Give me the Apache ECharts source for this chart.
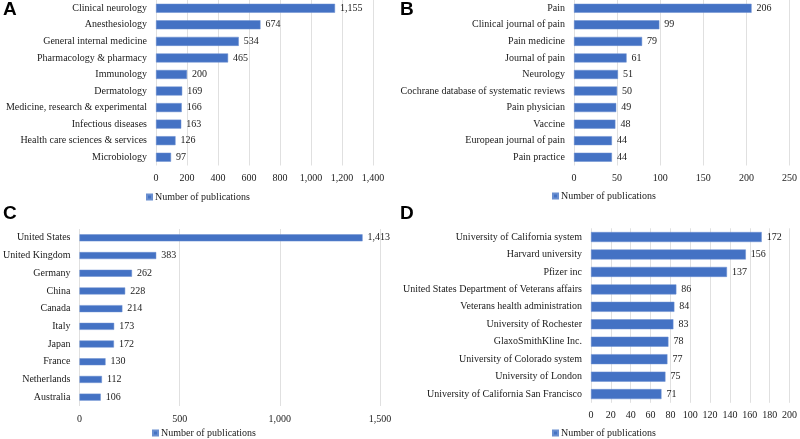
<!DOCTYPE html>
<html>
<head>
<meta charset="utf-8">
<script src="https://cdn.jsdelivr.net/npm/echarts@6/dist/echarts.min.js"></script>
<style>html,body{margin:0;padding:0;background:#fff}#c{width:800px;height:439px}</style>
</head>
<body>
<div id="c"></div>
<script>
const seriesName = 'Number of publications';

const catA = ['Clinical neurology','Anesthesiology','General internal medicine','Pharmacology & pharmacy','Immunology','Dermatology','Medicine, research & experimental','Infectious diseases','Health care sciences & services','Microbiology'];
const valA = [1155,674,534,465,200,169,166,163,126,97];

const catB = ['Pain','Clinical journal of pain','Pain medicine','Journal of pain','Neurology','Cochrane database of systematic reviews','Pain physician','Vaccine','European journal of pain','Pain practice'];
const valB = [206,99,79,61,51,50,49,48,44,44];

const catC = ['United States','United Kingdom','Germany','China','Canada','Italy','Japan','France','Netherlands','Australia'];
const valC = [1413,383,262,228,214,173,172,130,112,106];

const catD = ['University of California system','Harvard university','Pfizer inc','United States Department of Veterans affairs','Veterans health administration','University of Rochester','GlaxoSmithKline Inc.','University of Colorado system','University of London','University of California San Francisco'];
const valD = [172,156,137,86,84,83,78,77,75,71];

const panelLetters = ['A','B','C','D'];

const FONT = '"Liberation Serif","Times New Roman",serif';
const TXT = '#1a1a1a';
const BAR = '#4472C4';
const fmt = v => Number(v).toLocaleString('en-US');

const grids = [
  {left:156, width:217, top:0, height:165.5},
  {left:574, width:218, top:0, height:165.5},
  {left:77, width:303, top:229, height:177},
  {left:591, width:202, top:228.3, height:174.5}
];
const axes = [
  {max:1400, interval:200},
  {max:250, interval:50},
  {max:1500, interval:500},
  {max:200, interval:20}
];
const cats = [catA, catB, catC, catD];
const vals = [valA, valB, valC, valD];
const barW = [9, 9, 7, 10];
const legendPos = [{left:146, top:192},{left:552, top:191},{left:152, top:428},{left:552, top:428}];
const letterPos = [[3,0],[400,0],[3,204],[400,204]];

const option = {
  animation:false,
  backgroundColor:'#fff',
  grid: grids.map(g => Object.assign({containLabel:false}, g)),
  xAxis: axes.map((a,i) => ({
    type:'value', gridIndex:i, min:0, max:a.max, interval:a.interval,
    axisLine:{show:false}, axisTick:{show:false},
    splitLine:{show:true, lineStyle:{color:'#e0e0e0', width:1}},
    axisLabel:{fontFamily:FONT, fontSize:10, color:TXT, margin:8, formatter:fmt, hideOverlap:false}
  })),
  yAxis: cats.map((c,i) => ({
    type:'category', gridIndex:i, data:c, inverse:true,
    axisLine:{show:false}, axisTick:{show:false},
    axisLabel:{fontFamily:FONT, fontSize:10, color:TXT, margin:9, interval:0}
  })),
  legend: legendPos.map(p => ({
    left:p.left, top:p.top, data:[seriesName], icon:'rect', itemWidth:5, itemHeight:5, itemGap:2,
    selectedMode:false, padding:0,
    textStyle:{fontFamily:FONT, fontSize:10, color:TXT, padding:[0,0,0,-2]}
  })),
  series: vals.map((v,i) => ({
    type:'bar', name:seriesName, xAxisIndex:i, yAxisIndex:i, data:v, barWidth:barW[i],
    itemStyle:{color:BAR, borderColor:'#6a8fd0', borderWidth:0.5},
    label:{show:true, position:'right', distance:5, fontFamily:FONT, fontSize:10, color:TXT, formatter:p => fmt(p.value)}
  })),
  graphic: panelLetters.map((t,i) => ({
    type:'text', left:letterPos[i][0], top:letterPos[i][1],
    style:{text:t, font:'bold 19px "Liberation Sans", Arial, sans-serif', fill:'#000'}
  }))
};
echarts.init(document.getElementById('c'), null, {renderer:'canvas'}).setOption(option);
</script>
</body>
</html>
